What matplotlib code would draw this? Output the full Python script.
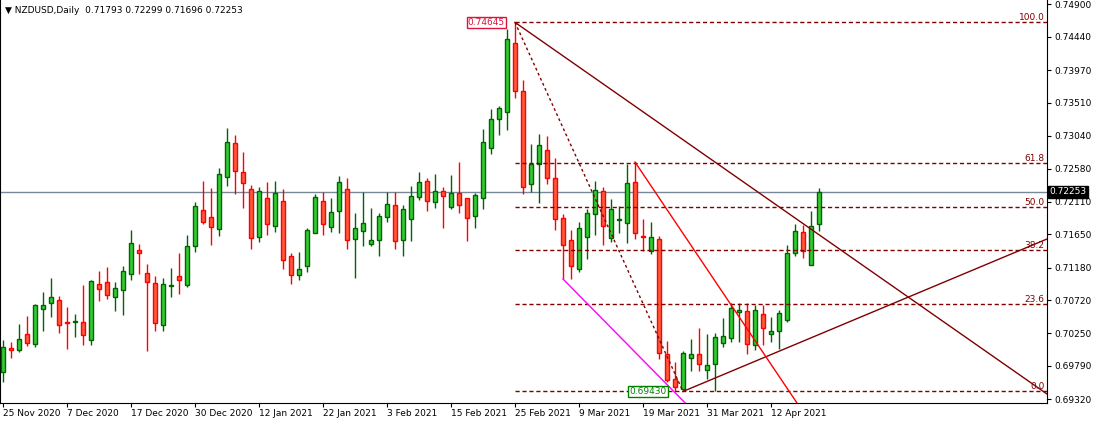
import matplotlib
matplotlib.use("Agg")
import matplotlib.pyplot as plt
import numpy as np

opens = [0.69705,0.70044,0.70015,0.70242,0.70100,0.70595,0.70680,0.70722,0.70411,0.70411,
         0.70411,0.70157,0.70948,0.70976,0.70764,0.70863,0.71089,0.71428,0.71104,0.70962,
         0.70369,0.70920,0.71061,0.70934,0.71485,0.71994,0.71895,0.71725,0.72460,0.72940,
         0.72531,0.72290,0.71612,0.72163,0.71768,0.72121,0.71344,0.71075,0.71202,0.71669,
         0.72121,0.71753,0.71980,0.72290,0.71584,0.71697,0.71513,0.71570,0.71895,0.72064,
         0.71570,0.71867,0.72177,0.72403,0.72107,0.72262,0.72036,0.72234,0.72163,0.71909,
         0.72163,0.72870,0.73280,0.73378,0.74353,0.73675,0.72361,0.72644,0.72841,0.72446,
         0.71881,0.71570,0.71160,0.71612,0.71937,0.72262,0.71598,0.71852,0.71810,0.72389,
         0.71626,0.71414,0.71584,0.69959,0.69606,0.69464,0.69902,0.69959,0.69733,0.69818,
         0.70114,0.70185,0.70552,0.70567,0.70086,0.70524,0.70242,0.70284,0.70439,0.71386,
         0.71683,0.71216,0.71793]
highs = [0.70157,0.70129,0.70383,0.70496,0.70665,0.70835,0.71033,0.70779,0.70623,0.70524,
         0.70934,0.71005,0.71132,0.71188,0.70976,0.71202,0.71711,0.71513,0.71231,0.71061,
         0.71033,0.71174,0.71386,0.71640,0.72107,0.72403,0.72305,0.72587,0.73152,0.73053,
         0.72813,0.72347,0.72319,0.72389,0.72403,0.72290,0.71386,0.71400,0.71739,0.72220,
         0.72248,0.72163,0.72474,0.72446,0.71951,0.72248,0.72022,0.71951,0.72248,0.72248,
         0.72064,0.72333,0.72531,0.72446,0.72502,0.72319,0.72488,0.72672,0.72163,0.72234,
         0.73138,0.73421,0.73463,0.74551,0.74645,0.73831,0.72926,0.73068,0.73039,0.72728,
         0.71937,0.71711,0.71824,0.72008,0.72403,0.72319,0.72149,0.72050,0.72644,0.72672,
         0.71867,0.71824,0.71626,0.70143,0.69846,0.70001,0.70171,0.70326,0.70242,0.70256,
         0.70468,0.70680,0.70680,0.70680,0.70651,0.70651,0.70482,0.70581,0.71499,0.71796,
         0.71782,0.71980,0.72299]
lows = [0.69563,0.69902,0.69987,0.70072,0.70058,0.70284,0.70482,0.70256,0.70030,0.70199,
        0.70086,0.70086,0.70708,0.70736,0.70567,0.70510,0.71005,0.71089,0.70001,0.70284,
        0.70284,0.70764,0.70807,0.70906,0.71400,0.71796,0.71499,0.71626,0.72333,0.72220,
        0.72022,0.71443,0.71542,0.71640,0.71683,0.71160,0.70948,0.71005,0.71118,0.71669,
        0.71640,0.71683,0.71669,0.71443,0.71033,0.71485,0.71485,0.71344,0.71824,0.71443,
        0.71344,0.71556,0.72135,0.71980,0.72022,0.71739,0.72008,0.71951,0.71556,0.71739,
        0.72008,0.72785,0.73053,0.73124,0.73576,0.72220,0.72248,0.72093,0.72361,0.71711,
        0.71019,0.71019,0.71118,0.71301,0.71640,0.71499,0.71542,0.71669,0.71527,0.71584,
        0.71414,0.71372,0.69888,0.69563,0.69430,0.69450,0.69719,0.69719,0.69606,0.69436,
        0.70058,0.70129,0.70129,0.69959,0.70015,0.70086,0.70129,0.70030,0.70411,0.71344,
        0.71315,0.71216,0.71696]
closes = [0.70058,0.70015,0.70171,0.70114,0.70651,0.70651,0.70764,0.70369,0.70397,0.70425,
          0.70227,0.70990,0.70877,0.70793,0.70892,0.71132,0.71527,0.71386,0.70976,0.70397,
          0.70948,0.70934,0.71005,0.71485,0.72050,0.71824,0.71753,0.72502,0.72955,0.72545,
          0.72375,0.71598,0.72262,0.71796,0.72234,0.71287,0.71075,0.71160,0.71711,0.72177,
          0.71796,0.71965,0.72389,0.71570,0.71739,0.71810,0.71570,0.71909,0.72078,0.71556,
          0.72008,0.72192,0.72389,0.72121,0.72262,0.72192,0.72234,0.72064,0.71881,0.72206,
          0.72955,0.73280,0.73435,0.74410,0.73675,0.72319,0.72644,0.72912,0.72446,0.71867,
          0.71499,0.71202,0.71739,0.71951,0.72276,0.71768,0.72008,0.71867,0.72375,0.71669,
          0.71612,0.71612,0.69973,0.69592,0.69493,0.69973,0.69959,0.69818,0.69804,0.70199,
          0.70213,0.70609,0.70581,0.70100,0.70581,0.70326,0.70284,0.70538,0.71386,0.71697,
          0.71414,0.71768,0.72253]

date_labels = ["25 Nov 2020","7 Dec 2020","17 Dec 2020","30 Dec 2020","12 Jan 2021",
               "22 Jan 2021","3 Feb 2021","15 Feb 2021","25 Feb 2021","9 Mar 2021",
               "19 Mar 2021","31 Mar 2021","12 Apr 2021"]
price_ticks = [0.74900,0.74440,0.73970,0.73510,0.73040,0.72580,0.72110,0.71650,
               0.71180,0.70720,0.70250,0.69790,0.69320]
fib_high, fib_low = 0.74645, 0.69430
fib_levels = [100.0, 61.8, 50.0, 38.2, 23.6, 0.0]
current = 0.72253
# trend lines (bar index, price)
trend_down = [(64, 0.74645), (130.5, 0.69394)]
trend_up = [(85, 0.69430), (130.5, 0.71584)]
trend_red = [(79, 0.72672), (99, 0.69309)]
trend_mag = [(70, 0.71019), (85.25, 0.69270)]
fib_diag = [(64, 0.74645), (85, 0.69430)]

fig = plt.figure(figsize=(10.93, 4.24), dpi=100)
ax = fig.add_axes([0.0, 21/424, 1047/1093, 1 - 21/424])
xmin, xmax = -0.375, 130.5
ymin, ymax = 0.69267, 0.74961
ax.set_xlim(xmin, xmax)
ax.set_ylim(ymin, ymax)

idx = np.arange(len(opens))
o = np.array(opens); c = np.array(closes); h = np.array(highs); l = np.array(lows)
up = c >= o
for i in idx:
    if up[i]:
        wc, fc, ec = "#006400", "#32CD32", "#006400"
    else:
        wc, fc, ec = "#FF0000", "#FF5A3C", "#FF0000"
    ax.vlines(i, l[i], h[i], color=wc, lw=1, zorder=2)
    bot = min(o[i], c[i]); ht = max(abs(c[i] - o[i]), 0.00004)
    ax.bar(i, ht, bottom=bot, width=0.62, color=fc, edgecolor=ec, lw=1, zorder=3)

# current price line
ax.axhline(current, color="#778899", lw=1, zorder=1)

# fibo
dark = "#800000"
for lv in fib_levels:
    p = fib_low + (fib_high - fib_low) * lv / 100
    ax.plot([64, xmax], [p, p], color=dark, lw=1, ls=(0, (3, 2)), zorder=4)
    ax.text(xmax - 0.3, p + 0.00005, f"{lv:.1f}", color=dark, fontsize=6.5,
            ha="right", va="bottom", zorder=5)
ax.plot(*zip(*fib_diag), color=dark, lw=1, ls=(0, (2, 2)), zorder=4)

ax.plot(*zip(*trend_down), color=dark, lw=1, zorder=4)
ax.plot(*zip(*trend_up), color=dark, lw=1, zorder=4)
(x0, y0), (x1, y1) = trend_red
s = (y1 - y0) / (x1 - x0)
ax.plot([x0, x0 + (ymin - 0.0005 - y0) / s], [y0, ymin - 0.0005], color="#FF0000", lw=1, zorder=4)
(x0, y0), (x1, y1) = trend_mag
s = (y1 - y0) / (x1 - x0)
ax.plot([x0, x0 + (ymin - 0.0005 - y0) / s], [y0, ymin - 0.0005], color="#FF00FF", lw=1, zorder=4)

ax.text(62.75, fib_high, "0.74645", color="#DC143C", fontsize=6.5, ha="right", va="center",
        bbox=dict(boxstyle="square,pad=0.15", fc="white", ec="#DC143C", lw=1), zorder=6)
ax.text(83, fib_low, "0.69430", color="#008000", fontsize=6.5, ha="right", va="center",
        bbox=dict(boxstyle="square,pad=0.15", fc="white", ec="#008000", lw=1), zorder=6)

ax.text(0.005, 0.985, "\u25BC NZDUSD,Daily  %.5f %.5f %.5f %.5f" % (opens[-1], highs[-1], lows[-1], closes[-1]),
        transform=ax.transAxes, fontsize=6.5, ha="left", va="top")

# axes
for sp in ["top"]:
    ax.spines[sp].set_visible(False)
for sp in ["left", "bottom", "right"]:
    ax.spines[sp].set_color("black")
ax.yaxis.tick_right()
ax.set_yticks(price_ticks)
ax.set_yticklabels([f"{v:.5f}" for v in price_ticks], fontsize=6.5)
ax.set_xticks(np.arange(len(date_labels)) * 8)
ax.set_xticklabels(date_labels, fontsize=6.5, ha="left")
ax.tick_params(axis="both", direction="out", length=3, width=0.8, pad=1.5)
ax.tick_params(axis="y", pad=2)

ax.text(1.0025, current, "0.72253", transform=ax.get_yaxis_transform(), fontsize=6.5,
        color="white", ha="left", va="center",
        bbox=dict(boxstyle="square,pad=0.15", fc="black", ec="black"), zorder=7, clip_on=False)

fig.savefig("out.png", dpi=100)
